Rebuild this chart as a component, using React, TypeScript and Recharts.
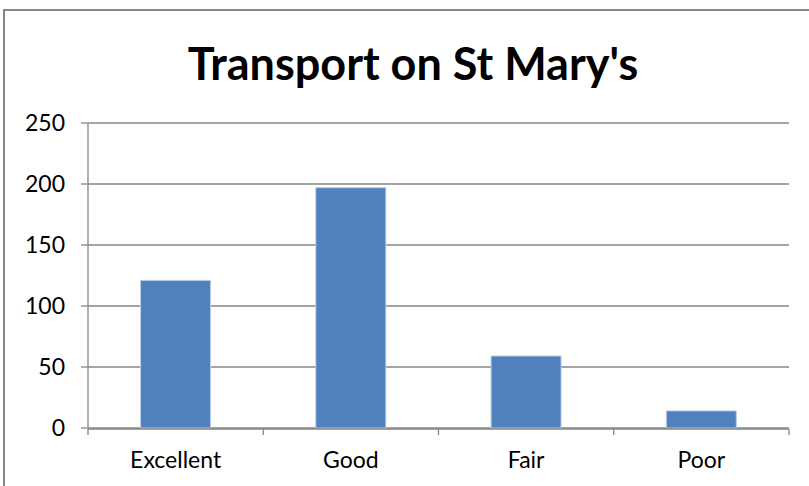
import { BarChart, Bar, XAxis, YAxis, CartesianGrid } from 'recharts';

const categories = ['Excellent', 'Good', 'Fair', 'Poor'];
const counts = [121, 197, 59, 14];
const yTicks = [0, 50, 100, 150, 200, 250];
const boundaryTicks = [0, 1, 2, 3, 4];

const data = categories.map((rating, i) => ({ rating, count: counts[i], pos: i + 0.5 }));

const font = 'Lato, "Open Sans", sans-serif';
const grey = '#868686';

export default function App() {
	return (
		<div
			style={{
				position: 'fixed',
				left: 0,
				top: 0,
				width: 809,
				height: 486,
				overflow: 'hidden',
				background: '#fff',
				fontFamily: font,
			}}>
			<div
				style={{
					position: 'absolute',
					left: 3,
					top: 9,
					width: 840,
					height: 520,
					border: `2px solid ${grey}`,
				}}
			/>
			<div
				style={{
					position: 'absolute',
					left: 0,
					width: 826,
					top: 36,
					textAlign: 'center',
					fontSize: 45,
					lineHeight: '54px',
					fontWeight: 'bold',
					color: '#000',
				}}>
				Transport on St Mary's
			</div>
			<div style={{ position: 'absolute', left: 0, top: 0 }}>
				<BarChart
					width={809}
					height={486}
					data={data}
					margin={{ top: 123, right: 20, bottom: 8, left: 8 }}
					barCategoryGap='30%'>
					<CartesianGrid vertical={false} stroke={grey} strokeWidth={1.3} />
					{/* category labels only; the lines and boundary ticks come from axis 'b' */}
					<XAxis
						dataKey='rating'
						height={1}
						axisLine={false}
						tickLine={false}
						tickSize={0}
						tickMargin={24}
						tick={{ fill: '#000', fontSize: 23, fontFamily: font }}
					/>
					<XAxis
						xAxisId='b'
						type='number'
						dataKey='pos'
						domain={[0, 4]}
						ticks={boundaryTicks}
						height={49}
						axisLine={{ stroke: grey, strokeWidth: 1.3 }}
						tickLine={{ stroke: grey, strokeWidth: 1.3 }}
						tickSize={6}
						tickFormatter={() => ''}
					/>
					<YAxis
						width={80}
						domain={[0, 250]}
						ticks={yTicks}
						interval={0}
						axisLine={{ stroke: grey, strokeWidth: 1.3 }}
						tickLine={{ stroke: grey, strokeWidth: 1.3 }}
						tickSize={7}
						tickMargin={16}
						tick={{ fill: '#000', fontSize: 23, fontFamily: font }}
					/>
					<Bar
						dataKey='count'
						fill='#4F81BD'
						stroke='#B9CDE5'
						strokeWidth={1}
						isAnimationActive={false}
					/>
				</BarChart>
			</div>
		</div>
	);
}
